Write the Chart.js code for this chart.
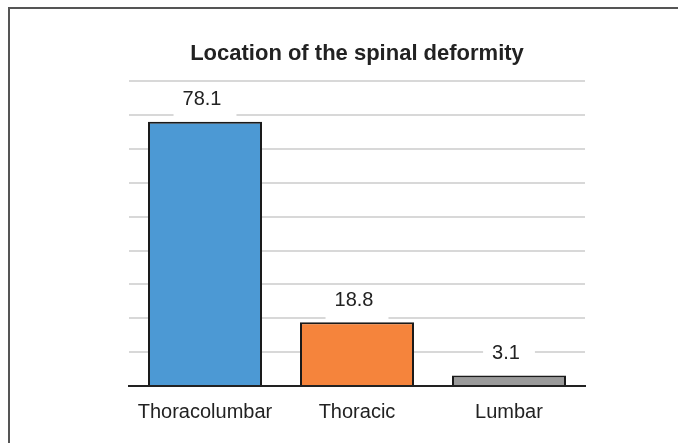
<!DOCTYPE html>
<html>
<head>
<meta charset="utf-8">
<script src="https://cdn.jsdelivr.net/npm/chart.js@4.4.1/dist/chart.umd.min.js"></script>
<style>
  html, body { margin: 0; padding: 0; background: #fff; }
  #wrap { position: relative; width: 678px; height: 443px; overflow: hidden; }
  #frame { position: absolute; left: 8px; top: 7px; width: 700px; height: 460px;
           border-top: 2px solid #555; border-left: 2px solid #555; }
  canvas { position: absolute; left: 0; top: 0; }
</style>
</head>
<body>
<div id="wrap">
  <div id="frame"></div>
  <canvas id="chart" width="678" height="443"></canvas>
</div>
<script>
const categories = ["Thoracolumbar", "Thoracic", "Lumbar"];
const values = [78.1, 18.8, 3.1];
const barColors = ["#4c99d4", "#f5843c", "#9a9a9a"];
const yTicks = [10, 20, 30, 40, 50, 60, 70, 80, 90];

// value labels sitting above each bar on a white patch that hides the gridline
const barLabels = {
  id: "barLabels",
  afterDatasetsDraw(chart) {
    const ctx = chart.ctx;
    const meta = chart.getDatasetMeta(0);
    ctx.save();
    ctx.font = "20px 'Liberation Sans', Arial, sans-serif";
    ctx.textAlign = "center";
    ctx.textBaseline = "middle";
    meta.data.forEach((bar, i) => {
      const txt = String(values[i]);
      const w = ctx.measureText(txt).width;
      const cy = bar.y - 22;
      ctx.fillStyle = "#fff";
      ctx.fillRect(bar.x - w / 2 - 12, cy - 15, w + 24, bar.y - 2 - (cy - 15));
      ctx.fillStyle = "#222";
      ctx.fillText(txt, bar.x - 3, cy);
    });
    ctx.restore();
  }
};

new Chart(document.getElementById("chart"), {
  type: "bar",
  data: {
    labels: categories,
    datasets: [{
      data: values,
      backgroundColor: barColors,
      borderColor: "#1a1a1a",
      borderWidth: 2,
      borderSkipped: "bottom",
      barPercentage: 0.75,
      categoryPercentage: 1
    }]
  },
  options: {
    responsive: false,
    animation: false,
    layout: { padding: { left: 129, right: 93, top: 30, bottom: 13 } },
    plugins: {
      legend: { display: false },
      tooltip: { enabled: false },
      title: {
        display: true,
        text: "Location of the spinal deformity",
        color: "#222",
        font: { family: "'Liberation Sans', Arial, sans-serif", size: 22, weight: "bold" },
        padding: { top: 11, bottom: 14 }
      }
    },
    scales: {
      x: {
        grid: { display: false },
        border: { display: true, color: "#222", width: 2 },
        ticks: {
          color: "#222",
          padding: 6,
          font: { family: "'Liberation Sans', Arial, sans-serif", size: 20 }
        }
      },
      y: {
        min: 0,
        max: 90,
        afterBuildTicks(axis) { axis.ticks = [0].concat(yTicks).map(v => ({ value: v })); },
        ticks: { display: false },
        border: { display: false },
        grid: {
          color: ctx => ctx.tick && ctx.tick.value === 0 ? "rgba(0,0,0,0)" : "#d8d8d8",
          lineWidth: 2,
          drawTicks: false
        }
      }
    }
  },
  plugins: [barLabels]
});
</script>
</body>
</html>
